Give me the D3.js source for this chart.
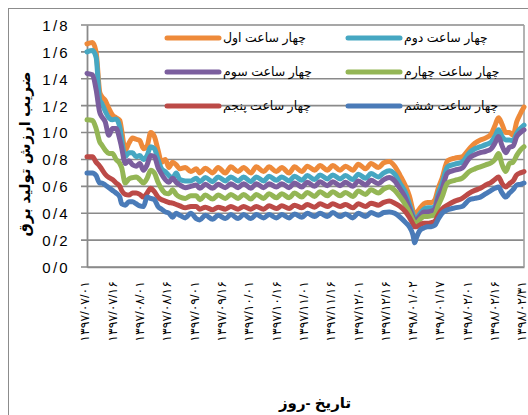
<!DOCTYPE html>
<html><head><meta charset="utf-8">
<script src="https://cdn.jsdelivr.net/npm/d3@7"></script>
<style>
html,body{margin:0;padding:0;background:#fff;}
svg{display:block;}
text{font-family:"Liberation Sans","DejaVu Sans",sans-serif;}
</style></head><body>
<svg id="chart" width="528" height="415"></svg>
<script>
// ---------- data ----------
const days = [0,3,5,7,8,10,12,14,16,18,19,21,23,25,27,29,31,33,35,37,39,41,43,45,47,49,51,54,57,
60,62,65,69,72,76,79,83,86,90,93,97,100,104,107,111,114,118,121,125,128,132,135,139,142,146,149,153,156,160,163,166,
169,172,175,177,179,180,181,183,185,187,189,191,193,195,198,202,206,210,213,216,219,222,224,226,228,230,232,234,236,238,240];

const seriesNames = ["چهار ساعت اول","چهار ساعت دوم","چهار ساعت سوم","چهار ساعت چهارم","چهار ساعت پنجم","چهار ساعت ششم"];
const seriesColors = ["#EE8A3A","#46A7C2","#7B5E9E","#94B655","#BC4A47","#4A7BB8"];

const hour1 = [1.66,1.67,1.60,1.30,1.27,1.24,1.18,1.13,1.11,1.09, 1.02,0.87,0.92,0.96,0.95,0.94,0.88,0.90,1.00,0.97, 0.87,0.78,0.80,0.74,0.78,0.76,0.73,0.74,0.71,
0.73,0.70,0.735,0.70,0.74,0.70,0.745,0.71,0.74,0.70, 0.745,0.71,0.745,0.71,0.74,0.70,0.745,0.71,0.75,0.72, 0.755,0.72,0.755,0.72,0.75,0.72,0.765,0.73,0.77,0.74, 0.775,0.785,
0.75,0.68,0.60,0.53,0.42,0.37,0.40,0.44,0.47,0.48, 0.48,0.50,0.59,0.66,0.79,0.81,0.82,0.88,0.92,0.945, 0.96,0.99,1.05,1.11,1.06,1.00,1.00,0.98,1.08,1.14, 1.19];
const hour2 = [1.60,1.61,1.56,1.24,1.22,1.16,1.11,1.095,1.10,1.04, 0.95,0.82,0.85,0.85,0.82,0.83,0.80,0.83,0.895,0.88, 0.80,0.73,0.71,0.68,0.66,0.70,0.65,0.64,0.64,
0.66,0.635,0.665,0.635,0.67,0.64,0.67,0.64,0.67,0.635, 0.67,0.64,0.675,0.645,0.67,0.64,0.675,0.645,0.68,0.65, 0.685,0.655,0.685,0.655,0.68,0.65,0.69,0.66,0.695,0.67, 0.70,0.715,
0.69,0.62,0.55,0.47,0.39,0.35,0.36,0.40,0.43,0.44, 0.44,0.45,0.55,0.62,0.745,0.765,0.78,0.85,0.88,0.895, 0.91,0.93,0.97,1.02,0.97,0.945,0.945,0.94,0.995,1.03, 1.055];
const hour3 = [1.44,1.43,1.32,1.15,1.12,1.08,0.98,1.03,1.03,0.95, 0.89,0.77,0.79,0.76,0.75,0.77,0.72,0.76,0.83,0.82, 0.74,0.69,0.65,0.63,0.66,0.63,0.61,0.59,0.60,
0.61,0.585,0.615,0.585,0.615,0.59,0.62,0.59,0.62,0.585, 0.62,0.59,0.62,0.595,0.62,0.59,0.625,0.595,0.63,0.60, 0.635,0.605,0.635,0.605,0.63,0.60,0.64,0.61,0.645,0.62, 0.65,0.665,
0.64,0.58,0.51,0.44,0.37,0.34,0.35,0.38,0.41,0.41, 0.415,0.43,0.52,0.58,0.70,0.72,0.735,0.81,0.835,0.85, 0.86,0.88,0.92,0.97,0.90,0.85,0.89,0.90,0.97,1.00, 1.02];
const hour4 = [1.095,1.09,1.03,0.93,0.91,0.87,0.845,0.845,0.80,0.77, 0.74,0.625,0.655,0.665,0.67,0.65,0.625,0.66,0.72,0.70, 0.63,0.58,0.55,0.545,0.575,0.54,0.52,0.51,0.53,
0.53,0.50,0.535,0.505,0.535,0.51,0.54,0.51,0.54,0.505, 0.54,0.51,0.545,0.515,0.545,0.515,0.55,0.52,0.555,0.525, 0.56,0.53,0.56,0.53,0.555,0.525,0.565,0.54,0.575,0.55, 0.58,0.595,
0.57,0.52,0.46,0.41,0.35,0.33,0.33,0.355,0.375,0.375, 0.38,0.39,0.46,0.52,0.625,0.645,0.66,0.71,0.73,0.745, 0.76,0.775,0.80,0.845,0.76,0.71,0.77,0.78,0.83,0.87, 0.895];
const hour5 = [0.82,0.82,0.78,0.75,0.73,0.69,0.665,0.65,0.625,0.60, 0.57,0.54,0.535,0.55,0.55,0.54,0.52,0.55,0.585,0.56, 0.52,0.50,0.49,0.48,0.475,0.465,0.455,0.44,0.45,
0.45,0.43,0.445,0.425,0.445,0.43,0.45,0.43,0.45,0.43, 0.45,0.43,0.455,0.435,0.455,0.435,0.46,0.44,0.465,0.445, 0.47,0.45,0.47,0.45,0.465,0.44,0.47,0.45,0.475,0.46, 0.48,0.49,
0.475,0.45,0.41,0.37,0.32,0.30,0.30,0.315,0.325,0.325, 0.33,0.34,0.39,0.43,0.46,0.49,0.51,0.55,0.57,0.585, 0.61,0.63,0.65,0.67,0.62,0.595,0.62,0.64,0.685,0.70, 0.71];
const hour6 = [0.70,0.70,0.68,0.625,0.625,0.61,0.59,0.57,0.55,0.52, 0.47,0.46,0.485,0.485,0.47,0.455,0.45,0.52,0.51,0.50, 0.45,0.43,0.41,0.40,0.37,0.40,0.385,0.365,0.40,
0.36,0.35,0.385,0.355,0.385,0.36,0.39,0.36,0.39,0.36, 0.39,0.365,0.39,0.365,0.39,0.365,0.395,0.37,0.40,0.375, 0.40,0.375,0.405,0.375,0.395,0.365,0.40,0.375,0.405,0.385, 0.405,0.41,
0.40,0.37,0.33,0.30,0.24,0.18,0.22,0.275,0.29,0.30, 0.30,0.31,0.36,0.40,0.425,0.44,0.45,0.50,0.51,0.52, 0.545,0.57,0.585,0.595,0.55,0.52,0.55,0.575,0.61,0.615, 0.625];

const labelDays = [0,15,30,45,60,75,90,105,120,135,150,165,180,195,210,225,240];
const xLabels = ["۱۳۹۷/۰۷/۰۱","۱۳۹۷/۰۷/۱۶","۱۳۹۷/۰۸/۰۱","۱۳۹۷/۰۸/۱۶","۱۳۹۷/۰۹/۰۱","۱۳۹۷/۰۹/۱۶",
"۱۳۹۷/۱۰/۰۱","۱۳۹۷/۱۰/۱۶","۱۳۹۷/۱۱/۰۱","۱۳۹۷/۱۱/۱۶","۱۳۹۷/۱۲/۰۱","۱۳۹۷/۱۲/۱۶",
"۱۳۹۸/۰۱/۰۲","۱۳۹۸/۰۱/۱۷","۱۳۹۸/۰۲/۰۱","۱۳۹۸/۰۲/۱۶","۱۳۹۸/۰۲/۳۱"];
const yTicks = [0,0.2,0.4,0.6,0.8,1.0,1.2,1.4,1.6,1.8];
const yLabels = ["0/0","0/2","0/4","0/6","0/8","1/0","1/2","1/4","1/6","1/8"];
const yTitle = "ضریب ارزش تولید برق";
const xTitle = "تاریخ -روز";

const allSeries = [hour1,hour2,hour3,hour4,hour5,hour6];

// ---------- drawing ----------
const svg = d3.select("#chart");
const plot = {left:87, right:524, top:25, bottom:267};
const grid = "#8a8a8a";

// outer chart border (left + top visible)
svg.append("rect").attr("x",8.5).attr("y",8.5).attr("width",540).attr("height",420)
  .attr("fill","#fff").attr("stroke","#8c8c8c").attr("stroke-width",1);

const x = d3.scaleLinear().domain([0,240]).range([plot.left, plot.right]);
const y = d3.scaleLinear().domain([0,1.8]).range([plot.bottom, plot.top]);

// gridlines
svg.append("g").selectAll("line").data(yTicks).join("line")
  .attr("x1",plot.left-6).attr("x2",plot.right)
  .attr("y1",d=>y(d)).attr("y2",d=>y(d))
  .attr("stroke",grid).attr("stroke-width",1.6);
svg.append("line").attr("x1",plot.right).attr("x2",plot.right).attr("y1",plot.top).attr("y2",plot.bottom)
  .attr("stroke","#a0a0a0").attr("stroke-width",1.6);

// y axis
const yAxis = d3.axisLeft(y).tickValues(yTicks).tickFormat((d,i)=>yLabels[i]).tickSize(0).tickPadding(17);
const gy = svg.append("g").attr("transform",`translate(${plot.left},0)`).call(yAxis);
gy.select(".domain").attr("stroke",grid).attr("stroke-width",1.8);
gy.selectAll("text").attr("font-size",15).attr("fill","#000").attr("letter-spacing","2.3px").attr("dy","0.36em");

// x axis
const xAxis = d3.axisBottom(x).tickValues(labelDays).tickFormat((d,i)=>xLabels[i]).tickSize(0);
const gx = svg.append("g").attr("transform",`translate(0,${plot.bottom})`).call(xAxis);
gx.select(".domain").attr("stroke",grid).attr("stroke-width",1.6);
gx.selectAll("text")
  .attr("font-family","DejaVu Sans")
  .attr("font-size",12.5).attr("fill","#000")
  .attr("letter-spacing","1.6px")
  .attr("text-anchor","end")
  .attr("transform","rotate(-90)")
  .attr("x",-14).attr("y",0).attr("dy","0.15em");

// lines
const line = d3.line().x((d,i)=>x(days[i])).y(d=>y(d)).curve(d3.curveMonotoneX);
svg.append("g").selectAll("path").data(allSeries).join("path")
  .attr("d",d=>line(d))
  .attr("fill","none")
  .attr("stroke",(d,i)=>seriesColors[i])
  .attr("stroke-width",5)
  .attr("stroke-linejoin","round").attr("stroke-linecap","round");

// legend
const legRows = [38,72,106], legCols = [167,348];
const lg = svg.append("g").selectAll("g").data(seriesNames).join("g")
  .attr("transform",(d,i)=>`translate(${legCols[i%2]},${legRows[Math.floor(i/2)]})`);
lg.append("line").attr("x1",0).attr("x2",52).attr("y1",0).attr("y2",0)
  .attr("stroke",(d,i)=>seriesColors[i]).attr("stroke-width",5).attr("stroke-linecap","round");
lg.append("text").attr("x",56).attr("y",0).attr("dy","0.35em")
  .attr("font-family","DejaVu Sans").attr("font-size",12.5).attr("fill","#000")
  .text(d=>d);

// titles
svg.append("text").attr("transform","translate(25,154) rotate(-90)")
  .attr("text-anchor","middle").attr("dy","0.35em")
  .attr("font-family","DejaVu Sans").attr("font-weight","bold").attr("font-size",15).attr("fill","#000")
  .text(yTitle);
svg.append("text").attr("x",315).attr("y",403).attr("dy","0.35em")
  .attr("text-anchor","middle")
  .attr("font-family","DejaVu Sans").attr("font-weight","bold").attr("font-size",15).attr("fill","#000")
  .text(xTitle);
</script></body></html>
